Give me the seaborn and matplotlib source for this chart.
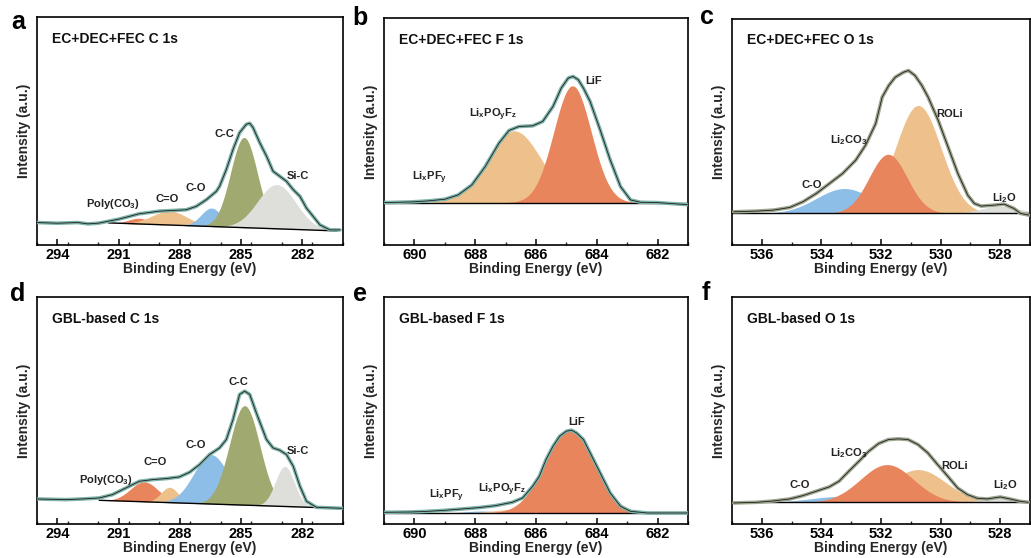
import numpy as np
import matplotlib
matplotlib.use("Agg")
import matplotlib.pyplot as plt
import seaborn as sns
import pandas as pd

# ---------------- measured envelopes (binding energy, intensity a.u.) ----------------
a_energy = [295.0, 294.0, 293.0, 292.51, 292.0, 291.49, 291.0, 290.49, 290.0, 289.49, 289.0,
            288.34, 287.69, 287.2, 286.7, 286.21, 286.05, 285.72, 285.39, 285.07, 284.74,
            284.57, 284.41, 284.08, 283.75, 283.43, 283.1, 282.77, 282.44, 282.11, 281.79,
            281.46, 281.13, 280.64, 280.15]
a_intensity = [67, 65, 67, 63, 65, 71, 77, 85, 93, 97, 101, 103, 105, 115, 135, 160, 175, 225,
               285, 335, 360, 363, 350, 305, 265, 220, 205, 190, 165, 145, 110, 85, 60, 45, 45]

b_energy = [691.0, 690.11, 689.56, 689.0, 688.56, 688.11, 687.67, 687.22, 686.89, 686.56, 686.11,
            685.78, 685.44, 685.17, 684.94, 684.78, 684.61, 684.44, 684.22, 683.89, 683.56,
            683.22, 682.89, 682.56, 682.0, 680.89]
b_intensity = [127, 129, 132, 137, 150, 180, 235, 305, 343, 355, 357, 370, 415, 470, 500, 505,
               495, 470, 430, 345, 255, 175, 135, 128, 127, 120]

c_energy = [536.94, 536.17, 535.61, 535.06, 534.62, 534.17, 533.73, 533.29, 532.85, 532.52,
            532.18, 531.96, 531.74, 531.52, 531.24, 531.08, 530.86, 530.63, 530.42, 530.08,
            529.75, 529.42, 529.09, 528.87, 528.64, 528.2, 527.87, 527.54, 527.32, 527.04]
c_intensity = [100, 102, 105, 113, 130, 155, 185, 215, 255, 300, 365, 445, 480, 505, 520, 525,
               510, 480, 445, 375, 295, 215, 150, 125, 117, 120, 123, 110, 95, 90]

d_energy = [295.05, 293.59, 292.77, 291.95, 291.3, 290.64, 289.98, 289.33, 288.67, 288.02,
            287.52, 287.03, 286.54, 286.05, 285.72, 285.39, 285.07, 284.82, 284.57, 284.25,
            283.75, 283.43, 283.1, 282.77, 282.44, 282.11, 281.79, 281.3, 280.48, 280.02]
d_intensity = [75, 73, 75, 78, 88, 108, 128, 133, 136, 141, 155, 178, 208, 228, 253, 313, 388,
               398, 388, 333, 253, 228, 221, 208, 173, 113, 68, 50, 48, 47]

e_energy = [691.0, 690.11, 689.56, 689.0, 688.44, 687.89, 687.33, 686.78, 686.44, 686.11,
            685.89, 685.67, 685.44, 685.22, 685.0, 684.83, 684.67, 684.44, 684.22, 683.89,
            683.56, 683.22, 682.89, 682.33, 680.89]
e_intensity = [35, 36, 38, 41, 45, 49, 55, 65, 78, 113, 143, 193, 233, 263, 278, 281, 273, 253,
               213, 153, 93, 53, 38, 33, 33]

f_energy = [536.94, 536.17, 535.61, 535.06, 534.62, 534.18, 533.74, 533.41, 533.08, 532.74,
            532.41, 532.08, 531.75, 531.42, 531.09, 530.76, 530.43, 530.1, 529.76, 529.43,
            529.1, 528.77, 528.44, 528.0, 527.67, 527.34, 527.06]
f_intensity = [63, 65, 69, 75, 85, 98, 111, 128, 158, 188, 218, 241, 253, 255, 253, 238, 213,
               178, 143, 108, 88, 77, 75, 81, 75, 68, 65]

# ---------------- fitted components: centre (eV), height, FWHM (eV) ----------------
c1s_names = ["Poly(CO$_3$)", "C=O", "C-O", "C-C", "Si-C"]
f1s_names = ["Li$_x$PF$_y$", "Li$_x$PO$_y$F$_z$", "LiF"]
o1s_names = ["C-O", "Li$_2$CO$_3$", "ROLi", "Li$_2$O"]

a_centers = [290.0, 288.5, 286.45, 284.85, 283.25]
a_heights = [17, 42, 55, 269, 132]
a_fwhm = [1.2, 2.0, 1.2, 1.55, 2.2]
a_baseline = [291.5, 66, 280.3, 42]
a_label_x = [291.3, 288.6, 287.2, 285.8, 282.2]
a_label_y = [123, 137, 170, 330, 205]

b_centers = [687.6, 686.72, 684.8]
b_heights = [6, 215, 350]
b_fwhm = [2.0, 2.1, 1.45]
b_baseline = [691.0, 127, 681.0, 127]
b_label_x = [689.5, 687.4, 684.1]
b_label_y = [200, 390, 490]

c_centers = [533.23, 531.76, 530.75, 528.0]
c_heights = [75, 178, 325, 22]
c_fwhm = [2.2, 1.5, 1.8, 1.5]
c_baseline = [537.0, 95, 527.0, 95]
c_label_x = [534.34, 533.07, 529.7, 527.87]
c_label_y = [180, 315, 395, 140]

d_centers = [289.74, 288.5, 286.46, 284.82, 282.85]
d_heights = [60, 46, 148, 298, 120]
d_fwhm = [1.6, 1.0, 2.0, 1.75, 1.1]
d_baseline = [291.95, 71, 280.64, 48]
d_label_x = [291.6, 289.2, 287.2, 285.15, 282.2]
d_label_y = [133, 185, 238, 425, 218]

e_centers = [687.8, 686.8, 684.9]
e_heights = [6, 10, 248]
e_fwhm = [1.2, 1.5, 1.9]
e_baseline = [691.0, 33, 681.0, 33]
e_label_x = [688.94, 687.11, 684.67]
e_label_y = [83, 103, 305]

f_centers = [533.3, 531.8, 530.76, 527.94]
f_heights = [18, 113, 98, 16]
f_fwhm = [2.4, 2.1, 2.2, 1.4]
f_baseline = [537.0, 65, 527.0, 65]
f_label_x = [534.73, 533.08, 529.54, 527.83]
f_label_y = [118, 213, 173, 118]

titles = ["EC+DEC+FEC C 1s", "EC+DEC+FEC F 1s", "EC+DEC+FEC O 1s",
          "GBL-based C 1s", "GBL-based F 1s", "GBL-based O 1s"]
letters = ["a", "b", "c", "d", "e", "f"]

# ---------------- style ----------------
RED = "#E8855D"
PEACH = "#EEC18C"
BLUE = "#8DBEE8"
OLIVE = "#A0AA70"
GREY = "#DEDEDA"
TEAL = "#7DB3A9"
OLIVE_ENV = "#9DA68E"

sns.set_theme(style="white")
plt.rcParams["font.family"] = ["Liberation Sans", "DejaVu Sans"]
plt.rcParams["font.weight"] = "bold"
plt.rcParams["mathtext.fontset"] = "custom"
plt.rcParams["mathtext.rm"] = "Liberation Sans:bold"
plt.rcParams["mathtext.it"] = "Liberation Sans:bold"
plt.rcParams["mathtext.bf"] = "Liberation Sans:bold"
plt.rcParams["mathtext.default"] = "rm"

W, H = 1031, 558
fig = plt.figure(figsize=(W / 100, H / 100), dpi=100)


def rect(l, t, r, b):
    return [l / W, 1 - b / H, (r - l) / W, (b - t) / H]


rects = [rect(37, 17, 343, 245), rect(384, 18, 688, 245), rect(732, 19, 1030, 245),
         rect(37, 297, 343, 524), rect(384, 297, 688, 524), rect(732, 297, 1030, 524)]
letter_pos = [(18, 22), (360, 18), (707, 17), (18, 294), (360, 294), (706, 293)]

panels = [
    dict(E=a_energy, I=a_intensity, names=c1s_names, cen=a_centers, h=a_heights, w=a_fwhm,
         base=a_baseline, lx=a_label_x, ly=a_label_y, xlim=(295, 280), minor=1.5,
         ticks=[294, 291, 288, 285, 282], colors=[RED, PEACH, BLUE, OLIVE, GREY],
         order=[0, 1, 2, 3, 4], env=TEAL),
    dict(E=b_energy, I=b_intensity, names=f1s_names, cen=b_centers, h=b_heights, w=b_fwhm,
         base=b_baseline, lx=b_label_x, ly=b_label_y, xlim=(691, 681), minor=1,
         ticks=[690, 688, 686, 684, 682], colors=[BLUE, PEACH, RED], order=[0, 1, 2], env=TEAL),
    dict(E=c_energy, I=c_intensity, names=o1s_names, cen=c_centers, h=c_heights, w=c_fwhm,
         base=c_baseline, lx=c_label_x, ly=c_label_y, xlim=(537, 527), minor=1,
         ticks=[536, 534, 532, 530, 528], colors=[BLUE, RED, PEACH, GREY], order=[0, 2, 1, 3],
         env=OLIVE_ENV),
    dict(E=d_energy, I=d_intensity, names=c1s_names, cen=d_centers, h=d_heights, w=d_fwhm,
         base=d_baseline, lx=d_label_x, ly=d_label_y, xlim=(295, 280), minor=1.5,
         ticks=[294, 291, 288, 285, 282], colors=[RED, PEACH, BLUE, OLIVE, GREY],
         order=[0, 1, 2, 3, 4], env=TEAL),
    dict(E=e_energy, I=e_intensity, names=f1s_names, cen=e_centers, h=e_heights, w=e_fwhm,
         base=e_baseline, lx=e_label_x, ly=e_label_y, xlim=(691, 681), minor=1,
         ticks=[690, 688, 686, 684, 682], colors=[BLUE, PEACH, RED], order=[0, 1, 2], env=TEAL),
    dict(E=f_energy, I=f_intensity, names=o1s_names, cen=f_centers, h=f_heights, w=f_fwhm,
         base=f_baseline, lx=f_label_x, ly=f_label_y, xlim=(537, 527), minor=1,
         ticks=[536, 534, 532, 530, 528], colors=[BLUE, RED, PEACH, GREY], order=[0, 2, 1, 3],
         env=OLIVE_ENV),
]

for k, p in enumerate(panels):
    ax = fig.add_axes(rects[k])
    e0, i0, e1, i1 = p["base"]
    grid = np.linspace(e0, e1, 800)
    base = i0 + (grid - e0) * (i1 - i0) / (e1 - e0)
    for n, j in enumerate(p["order"]):
        sig = p["w"][j] / 2.3548
        comp = p["h"][j] * np.exp(-0.5 * ((grid - p["cen"][j]) / sig) ** 2)
        ax.fill_between(grid, base, base + comp, color=p["colors"][j], lw=0, zorder=2 + n * 0.01)
    ax.plot([e0, e1], [i0, i1], color="black", lw=1.0, zorder=3)
    df = pd.DataFrame({"E": p["E"], "I": p["I"]})
    sns.lineplot(data=df, x="E", y="I", ax=ax, color=p["env"], lw=2.6, zorder=4, sort=False)
    sns.lineplot(data=df, x="E", y="I", ax=ax, color="#202020", lw=0.6, zorder=5, sort=False)

    for j, name in enumerate(p["names"]):
        ax.text(p["lx"][j], p["ly"][j], name, ha="center", va="center", fontsize=8,
                fontweight="bold", color="#222222", zorder=6)
    ax.text(0.05, 0.905, titles[k], transform=ax.transAxes, ha="left", va="center",
            fontsize=10, fontweight="bold", color="#111111")

    ax.set_xlim(*p["xlim"])
    ax.set_ylim(0, 680)
    ax.set_xticks(p["ticks"])
    ax.set_xticklabels([str(t) for t in p["ticks"]], fontsize=10.5, fontweight="bold")
    minors = np.arange(min(p["xlim"]), max(p["xlim"]) + 0.01, p["minor"])
    ax.set_xticks([m for m in minors if m not in p["ticks"]], minor=True)
    ax.set_yticks([])
    ax.tick_params(axis="x", which="major", direction="in", length=4, width=1.1, pad=2,
                   bottom=True, top=False, colors="black")
    ax.tick_params(axis="x", which="minor", direction="in", length=2.5, width=1.0,
                   bottom=True, top=False)
    ax.set_xlabel("Binding Energy (eV)", fontsize=10, fontweight="bold", labelpad=0)
    ax.set_ylabel("Intensity (a.u.)", fontsize=10, fontweight="bold", labelpad=4)
    for s in ax.spines.values():
        s.set_color("black")
        s.set_linewidth(1.2)
    lx, ly = letter_pos[k]
    fig.text(lx / W, 1 - ly / H, letters[k], fontsize=18, fontweight="bold",
             ha="center", va="center", color="black")

fig.savefig("out.png", dpi=100, facecolor="white")
